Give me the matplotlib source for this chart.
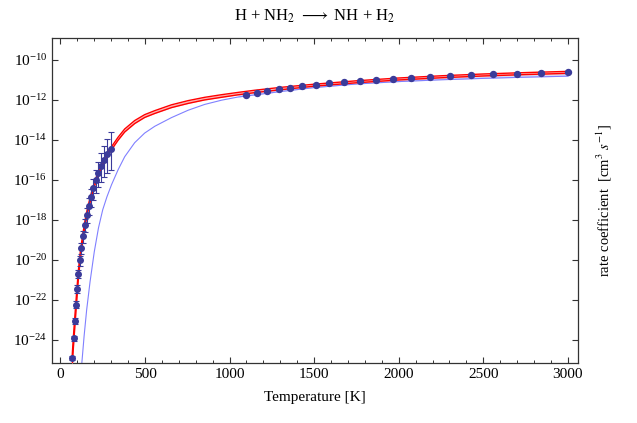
import numpy as np
import matplotlib
matplotlib.use("Agg")
import matplotlib.pyplot as plt
from matplotlib.ticker import MultipleLocator, FixedLocator, NullLocator

plt.rcParams["font.family"] = ["Liberation Serif", "DejaVu Serif"]
plt.rcParams["mathtext.fontset"] = "stix"

# ─── DATA (log10 of k in cm^3 s^-1) ──────────────────────────────────────────
# low temperature points with error bars
low_T = [70, 78, 86, 93, 99, 106, 114, 123, 133, 144,
         155, 166, 179, 193, 208, 224, 241, 258, 277, 300]
low_logk = [-24.9, -23.9, -23.03, -22.23, -21.45, -20.7, -20.03, -19.4, -18.83, -18.25,
            -17.75, -17.3, -16.87, -16.43, -16.03, -15.67, -15.33, -15.03, -14.73, -14.47]
low_err_up = [0.10, 0.12, 0.14, 0.16, 0.18, 0.20, 0.22, 0.25, 0.28, 0.31,
              0.35, 0.39, 0.43, 0.48, 0.53, 0.58, 0.64, 0.70, 0.78, 0.87]
low_err_dn = [0.12, 0.14, 0.16, 0.18, 0.20, 0.23, 0.26, 0.29, 0.33, 0.37,
              0.41, 0.46, 0.51, 0.57, 0.63, 0.70, 0.77, 0.85, 0.95, 1.02]

# high temperature points
high_T = [1100, 1163, 1224, 1291, 1360, 1431, 1510, 1588, 1677, 1770,
          1865, 1967, 2072, 2184, 2302, 2430, 2558, 2697, 2844, 3000]
high_logk = [-11.75, -11.65, -11.55, -11.485, -11.40, -11.32, -11.25, -11.185, -11.135, -11.085,
             -11.035, -10.97, -10.92, -10.87, -10.82, -10.77, -10.735, -10.70, -10.67, -10.635]

# red fit (centre line and half-width of band)
red_T = [68, 75, 85, 95, 105, 115, 130, 145, 160, 180, 200, 225, 250, 275, 300,
         341, 380, 439, 498, 558, 656, 755, 853, 952, 1050, 1150, 1300, 1500,
         1750, 2000, 2250, 2500, 2750, 3000]
red_logk = [-25.3, -24.3, -23.1, -21.95, -20.85, -19.97, -19.0, -18.2, -17.55, -16.85,
            -16.25, -15.65, -15.18, -14.76, -14.45, -13.95, -13.54, -13.12, -12.82, -12.62,
            -12.33, -12.12, -11.95, -11.82, -11.70, -11.59, -11.45, -11.28, -11.11, -10.97,
            -10.86, -10.77, -10.70, -10.64]
red_half = [0.30, 0.28, 0.26, 0.24, 0.22, 0.20, 0.17, 0.15, 0.13, 0.11,
            0.10, 0.09, 0.08, 0.08, 0.075, 0.075, 0.075, 0.075, 0.07, 0.07,
            0.07, 0.07, 0.065, 0.065, 0.06, 0.06, 0.06, 0.05, 0.05, 0.05,
            0.05, 0.05, 0.05, 0.05]

# blue fit
blue_T = [126, 140, 155, 175, 200, 225, 250, 275, 302, 341, 380, 439, 498, 558,
          656, 755, 853, 952, 1050, 1100, 1300, 1500, 1750, 2000, 2250, 2500, 2750, 3000]
blue_logk = [-25.2, -23.8, -22.5, -21.1, -19.6, -18.4, -17.5, -16.85, -16.25, -15.5,
             -14.85, -14.15, -13.67, -13.33, -12.9, -12.53, -12.24, -12.03, -11.87, -11.82,
             -11.6, -11.4, -11.22, -11.1, -11.01, -10.94, -10.88, -10.83]

POINT_COLOR = "#3b3b9a"


def main():
    fig = plt.figure(figsize=(6.37, 4.23), dpi=100)
    ax = fig.add_axes([0.0816, 0.1418, 0.8258, 0.7695])

    lT = np.array(low_T, float)
    lk = np.array(low_logk)
    hT = np.array(high_T, float)
    hk = np.array(high_logk)
    rT = np.array(red_T, float)
    rk = np.array(red_logk)
    rh = np.array(red_half)
    bT = np.array(blue_T, float)
    bk = np.array(blue_logk)

    # light lavender band at high T between blue fit and red fit
    sel = bT >= 1000
    ax.fill_between(bT[sel], 10 ** bk[sel], 10 ** np.interp(bT[sel], rT, rk - rh),
                    color="#c9c9f2", alpha=0.7, lw=0, zorder=1)
    ax.plot(bT, 10 ** bk, color="#8080ff", lw=0.8, zorder=2)

    # red band
    ax.fill_between(rT, 10 ** (rk - rh), 10 ** (rk + rh), color="#ffb4b4", lw=0, zorder=3)
    ax.plot(rT, 10 ** (rk - rh), color="red", lw=1.0, zorder=3)
    ax.plot(rT, 10 ** (rk + rh), color="red", lw=1.0, zorder=3)

    # data points
    lo = 10 ** lk - 10 ** (lk - np.array(low_err_dn))
    hi = 10 ** (lk + np.array(low_err_up)) - 10 ** lk
    ax.errorbar(lT, 10 ** lk, yerr=[lo, hi], fmt="o", color=POINT_COLOR, ms=4,
                elinewidth=0.8, capsize=2.5, capthick=0.8, zorder=4)
    ax.plot(hT, 10 ** hk, "o", color=POINT_COLOR, ms=4.3, zorder=4)

    ax.set_yscale("log")
    ax.set_xlim(-50, 3060)
    ax.set_ylim(10 ** -25.15, 10 ** -8.9)

    ax.xaxis.set_major_locator(MultipleLocator(500))
    ax.xaxis.set_minor_locator(MultipleLocator(100))
    ax.yaxis.set_major_locator(FixedLocator([10.0 ** e for e in range(-24, -9, 2)]))
    ax.yaxis.set_minor_locator(NullLocator())
    ax.tick_params(which="both", direction="in", top=True, right=True,
                   labelsize=11, color="#333333")
    ax.tick_params(which="major", length=4.5, width=0.8)
    ax.tick_params(which="minor", length=2.5, width=0.7)
    for s in ax.spines.values():
        s.set_color("#333333")
        s.set_linewidth(0.9)

    ax.set_title(r"H + NH$_2$ $\longrightarrow$ NH + H$_2$", fontsize=12, pad=12)
    ax.set_xlabel("Temperature [K]", fontsize=11, labelpad=7)
    ax.yaxis.set_label_position("right")
    ax.set_ylabel(r"rate coefficient  [cm$^3$ $s^{-1}$]", fontsize=10.5, labelpad=12)

    fig.savefig("out.png", dpi=100)


if __name__ == "__main__":
    main()
